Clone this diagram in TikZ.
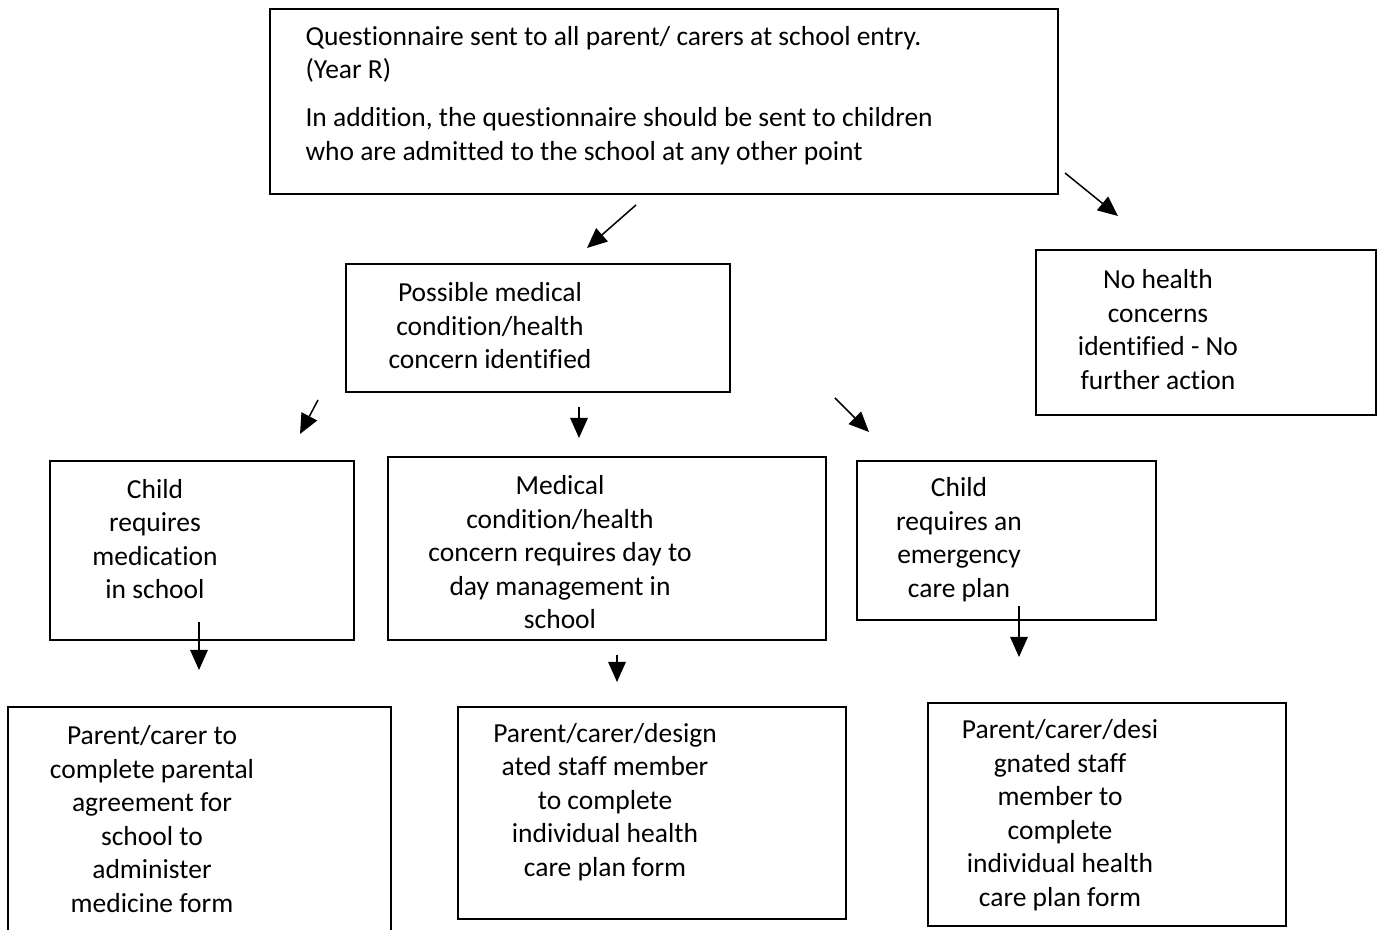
\documentclass[tikz,border=0pt]{standalone}
\usepackage{fontspec}
\setmainfont{Carlito}[Ligatures=NoCommon]
\usetikzlibrary{arrows.meta}

\tikzset{
	box/.style={draw, rectangle, line width=0.8pt, inner sep=0pt},
	txt/.style={font=\fontsize{11}{13.4}\selectfont, align=center, inner sep=0pt},
	arr/.style={line width=0.6pt, -{Triangle[length=8pt,width=7pt]}}
}

\begin{document}
\begin{tikzpicture}[x=0.4pt, y=-0.4pt]
	\useasboundingbox (0,0) rectangle (1381,930);
	
	% boxes
	\node[box, minimum width=315.2pt, minimum height=74pt] (qbox) at (664,101.5) {};
	\node[box, minimum width=153.6pt, minimum height=51.2pt] (pmed) at (538,328) {};
	\node[box, minimum width=136pt, minimum height=66pt] (nohealth) at (1206,332.5) {};
	\node[box, minimum width=121.6pt, minimum height=71.6pt] (medic) at (202,550.5) {};
	\node[box, minimum width=175.2pt, minimum height=73.2pt] (daily) at (607,548.5) {};
	\node[box, minimum width=119.6pt, minimum height=63.6pt] (emerg) at (1006.5,540.5) {};
	\node[box, minimum width=153.2pt, minimum height=91.2pt] (agree) at (199.5,821) {};
	\node[box, minimum width=155.2pt, minimum height=84.8pt] (ihcpa) at (652,813) {};
	\node[box, minimum width=143.2pt, minimum height=89.2pt] (ihcpb) at (1107,814.5) {};
	
	% texts
	\node[txt, align=left, anchor=west] (qtext) at (305,95.5) {Questionnaire sent to all parent/ carers at school entry.\\(Year R)\\[5.8pt]In addition, the questionnaire should be sent to children\\who are admitted to the school at any other point};
	\node[txt] (pmedtext) at (490,326) {Possible medical\\condition/health\\concern identified};
	\node[txt] (nohtext) at (1158,329.5) {No health\\concerns\\identified - No\\further action};
	\node[txt] (medictext) at (155,539) {Child\\requires\\medication\\in school};
	\node[txt] (dailytext) at (560,552.5) {Medical\\condition/health\\concern requires day to\\day management in\\school};
	\node[txt] (emergtext) at (959,539.5) {Child\\requires an\\emergency\\care plan};
	\node[txt] (agreetext) at (152,819) {Parent/carer to\\complete parental\\agreement for\\school to\\administer\\medicine form};
	\node[txt] (ihcpatext) at (605,802) {Parent/carer/design\\ated staff member\\to complete\\individual health\\care plan form};
	\node[txt] (ihcpbtext) at (1060,815) {Parent/carer/desi\\gnated staff\\member to\\complete\\individual health\\care plan form};
	
	% arrow ends
	\coordinate (a1s) at (636,205);  \coordinate (a1e) at (587,248);
	\coordinate (a2s) at (1065,173); \coordinate (a2e) at (1118,216);
	\coordinate (a3s) at (318,400);  \coordinate (a3e) at (300,434);
	\coordinate (a4s) at (579,407);  \coordinate (a4e) at (579,438);
	\coordinate (a5s) at (835,398);  \coordinate (a5e) at (869,432);
	\coordinate (a6s) at (199,622);  \coordinate (a6e) at (199,670);
	\coordinate (a7s) at (617,655);  \coordinate (a7e) at (617,682);
	\coordinate (a8s) at (1019,606); \coordinate (a8e) at (1019,657);
	
	\foreach \i in {1,...,8}
		\draw[arr] (a\i s) -- (a\i e);
	
\end{tikzpicture}
\end{document}
